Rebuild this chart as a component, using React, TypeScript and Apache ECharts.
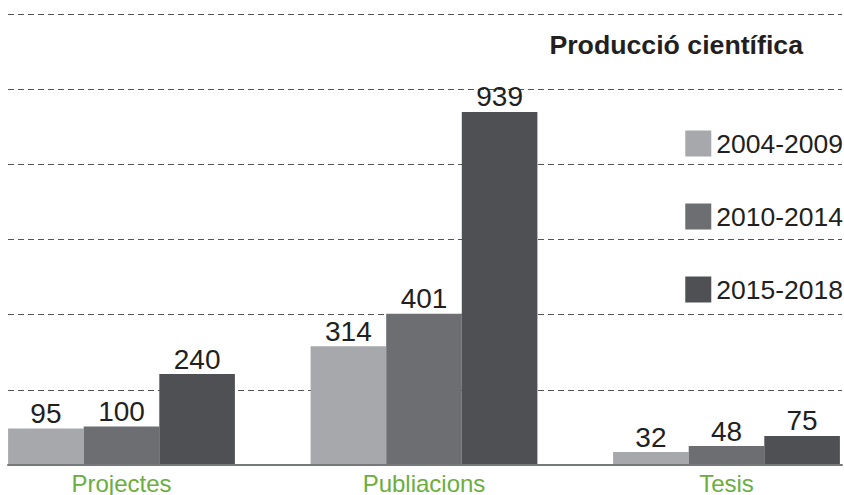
import React, { useEffect, useRef } from "react";
import * as echarts from "echarts";

const categories = ["Projectes", "Publiacions", "Tesis"];
const seriesNames = ["2004-2009", "2010-2014", "2015-2018"];
const values2004 = [95, 314, 32];
const values2010 = [100, 401, 48];
const values2015 = [240, 939, 75];
const colors = ["#a7a8ab", "#6d6e72", "#4f5053"];
const titleText = "Producció científica";

const FONT = "Liberation Sans, Arial, sans-serif";

export default function App() {
  const ref = useRef<HTMLDivElement>(null);
  useEffect(() => {
    if (!ref.current) return;
    const chart = echarts.init(ref.current, null, { renderer: "svg" });
    const allValues = [values2004, values2010, values2015];
    chart.setOption({
      animation: false,
      backgroundColor: "#ffffff",
      title: {
        text: titleText,
        right: 36,
        top: 26,
        textStyle: { fontFamily: FONT, fontSize: 26.7, fontWeight: "bold", color: "#231f20" },
      },
      legend: {
        orient: "vertical",
        right: 1,
        top: 130,
        padding: 0,
        itemWidth: 26,
        itemHeight: 26,
        itemGap: 46,
        icon: "rect",
        data: seriesNames,
        textStyle: { fontFamily: FONT, fontSize: 26.5, color: "#231f20" },
      },
      grid: [
        { left: 121.5, right: 117.5, top: 14, bottom: 30 },
        { left: 8, right: 2, top: 14, bottom: 30 },
      ],
      xAxis: [
        {
          type: "category",
          gridIndex: 0,
          data: categories,
          boundaryGap: false,
          axisLine: { show: false },
          axisTick: { show: false },
          axisLabel: { margin: 7, fontFamily: FONT, fontSize: 24, color: "#6aae3e" },
        },
        {
          type: "category",
          gridIndex: 1,
          data: [""],
          axisLine: { show: true, lineStyle: { color: "#77787b", width: 2 } },
          axisTick: { show: false },
          axisLabel: { show: false },
        },
      ],
      yAxis: [
        { type: "value", gridIndex: 0, min: 0, max: 1200, interval: 200, show: false },
        {
          type: "value",
          gridIndex: 1,
          min: 0,
          max: 1200,
          interval: 200,
          axisLine: { show: false },
          axisTick: { show: false },
          axisLabel: { show: false },
          splitLine: { show: true, lineStyle: { color: "#555555", width: 1, type: [6, 4] } },
        },
      ],
      series: seriesNames.map((name, i) => ({
        name,
        type: "bar",
        xAxisIndex: 0,
        yAxisIndex: 0,
        data: allValues[i],
        barWidth: 75.6,
        barGap: "0%",
        clip: false,
        itemStyle: { color: colors[i] },
        label: {
          show: true,
          position: "top",
          distance: 1,
          fontFamily: FONT,
          fontSize: 28,
          color: "#231f20",
        },
      })),
    });
    return () => chart.dispose();
  }, []);
  return (
    <div
      ref={ref}
      style={{ position: "fixed", left: 0, top: 0, width: 844, height: 495, overflow: "hidden" }}
    />
  );
}
